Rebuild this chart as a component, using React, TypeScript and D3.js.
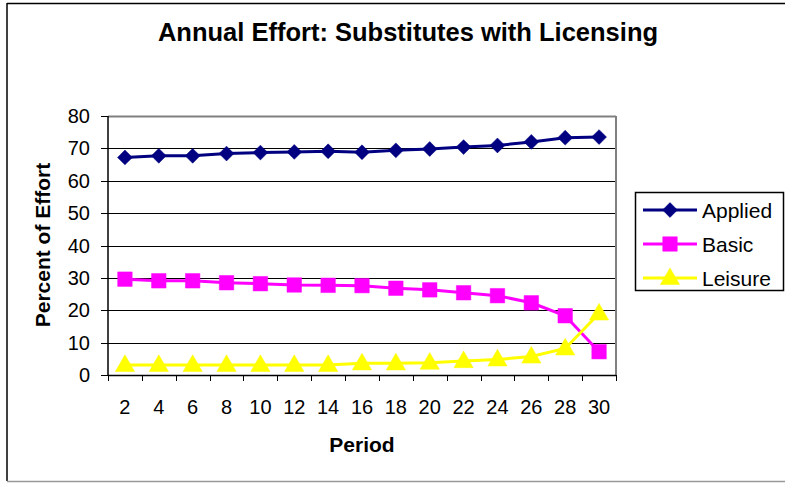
import React from "react";
import * as d3 from "d3";

const periods = [2, 4, 6, 8, 10, 12, 14, 16, 18, 20, 22, 24, 26, 28, 30];
const applied = [67.2, 67.7, 67.7, 68.4, 68.7, 68.9, 69.1, 68.8, 69.4, 69.8, 70.4, 70.9, 72.0, 73.3, 73.5];
const basic = [29.6, 29.1, 29.1, 28.5, 28.2, 27.8, 27.7, 27.6, 26.8, 26.3, 25.4, 24.5, 22.3, 18.3, 7.2];
const leisure = [3.1, 3.1, 3.1, 3.1, 3.1, 3.1, 3.1, 3.6, 3.6, 3.8, 4.3, 4.8, 5.7, 8.2, 19.0];
const yTicks = [0, 10, 20, 30, 40, 50, 60, 70, 80];
const seriesNames = ["Applied", "Basic", "Leisure"];
const seriesColors = ["#000080", "#FF00FF", "#FFFF00"];
const seriesMarkers = ["diamond", "square", "triangle"];

const W = 785;
const H = 483;
const plot = { left: 108, right: 616, top: 116, bottom: 375 };
const FONT = "'Liberation Sans', Arial, sans-serif";

function Marker({ type, x, y, color }: { type: string; x: number; y: number; color: string }) {
  const shape =
    type === "diamond"
      ? d3.symbol(d3.symbolSquare, 110)
      : type === "square"
      ? d3.symbol(d3.symbolSquare, 210)
      : d3.symbol(d3.symbolTriangle, 160);
  const dy = type === "triangle" ? 1 : 0;
  const rot = type === "diamond" ? 45 : 0;
  return (
    <path
      d={shape() || ""}
      transform={`translate(${x},${y + dy}) rotate(${rot})`}
      fill={color}
      stroke={color}
      strokeWidth={0.5}
    />
  );
}

export default function App() {
  const x = d3.scaleBand<number>().domain(periods).range([plot.left, plot.right]);
  const y = d3.scaleLinear().domain([0, 80]).range([plot.bottom, plot.top]);
  const cx = (p: number) => (x(p) as number) + x.bandwidth() / 2;
  const data = [applied, basic, leisure];
  const line = d3
    .line<number>()
    .x((_, i) => cx(periods[i]))
    .y((v) => y(v));

  const boundaries = periods.map((p) => x(p) as number).concat([plot.right]);

  return (
    <svg
      width={W}
      height={H}
      style={{ position: "absolute", left: 0, top: 0, fontFamily: FONT }}
    >
      <rect x={0} y={0} width={W} height={H} fill="#fff" />
      <line x1={7} y1={3.5} x2={W} y2={3.5} stroke="#000" strokeWidth={1.5} />
      <line x1={7} y1={3} x2={7} y2={481} stroke="#000" strokeWidth={1.5} />
      <line x1={7} y1={481.5} x2={W} y2={481.5} stroke="#999" strokeWidth={1.5} />

      <text x={408} y={41} textAnchor="middle" fontSize={25.5} fontWeight="bold" fill="#000">
        Annual Effort: Substitutes with Licensing
      </text>

      {yTicks.map((t) => (
        <line
          key={t}
          x1={plot.left}
          x2={plot.right}
          y1={Math.round(y(t)) + 0.5}
          y2={Math.round(y(t)) + 0.5}
          stroke={t === 0 ? "none" : "#000"}
          strokeWidth={1}
        />
      ))}
      <line x1={plot.left} x2={plot.right} y1={plot.top + 0.5} y2={plot.top + 0.5} stroke="#808080" strokeWidth={2} />
      <line x1={plot.right} x2={plot.right} y1={plot.top} y2={plot.bottom} stroke="#808080" strokeWidth={2} />

      <line x1={plot.left} x2={plot.left} y1={plot.top} y2={plot.bottom} stroke="#000" strokeWidth={1.5} />
      {yTicks.map((t) => (
        <g key={t}>
          <line x1={plot.left - 7} x2={plot.left} y1={Math.round(y(t)) + 0.5} y2={Math.round(y(t)) + 0.5} stroke="#000" />
          <text x={90} y={y(t) + 7} textAnchor="end" fontSize={20} fill="#000">
            {t}
          </text>
        </g>
      ))}

      <line x1={plot.left} x2={plot.right} y1={plot.bottom + 0.5} y2={plot.bottom + 0.5} stroke="#000" strokeWidth={1.5} />
      {boundaries.map((b, i) => (
        <line key={i} x1={Math.round(b) + 0.5} x2={Math.round(b) + 0.5} y1={plot.bottom} y2={plot.bottom + 6} stroke="#000" />
      ))}
      {periods.map((p) => (
        <text key={p} x={cx(p)} y={414} textAnchor="middle" fontSize={20} fill="#000">
          {p}
        </text>
      ))}

      <text x={362} y={452} textAnchor="middle" fontSize={21} fontWeight="bold" fill="#000">
        Period
      </text>
      <text
        transform={`translate(50,245) rotate(-90)`}
        textAnchor="middle"
        fontSize={21}
        fontWeight="bold"
        fill="#000"
      >
        Percent of Effort
      </text>

      {data.map((vals, si) => (
        <g key={si}>
          <path d={line(vals) || ""} fill="none" stroke={seriesColors[si]} strokeWidth={3} />
          {vals.map((v, i) => (
            <Marker key={i} type={seriesMarkers[si]} x={cx(periods[i])} y={y(v)} color={seriesColors[si]} />
          ))}
        </g>
      ))}

      <rect x={635.5} y={192.5} width={148} height={98} fill="#fff" stroke="#000" strokeWidth={1.5} />
      {seriesNames.map((n, i) => {
        const ly = 210 + i * 34;
        return (
          <g key={n}>
            <line x1={643} x2={697} y1={ly} y2={ly} stroke={seriesColors[i]} strokeWidth={3} />
            <Marker type={seriesMarkers[i]} x={670} y={ly} color={seriesColors[i]} />
            <text x={702} y={ly + 7.5} fontSize={21} fill="#000">
              {n}
            </text>
          </g>
        );
      })}
    </svg>
  );
}
